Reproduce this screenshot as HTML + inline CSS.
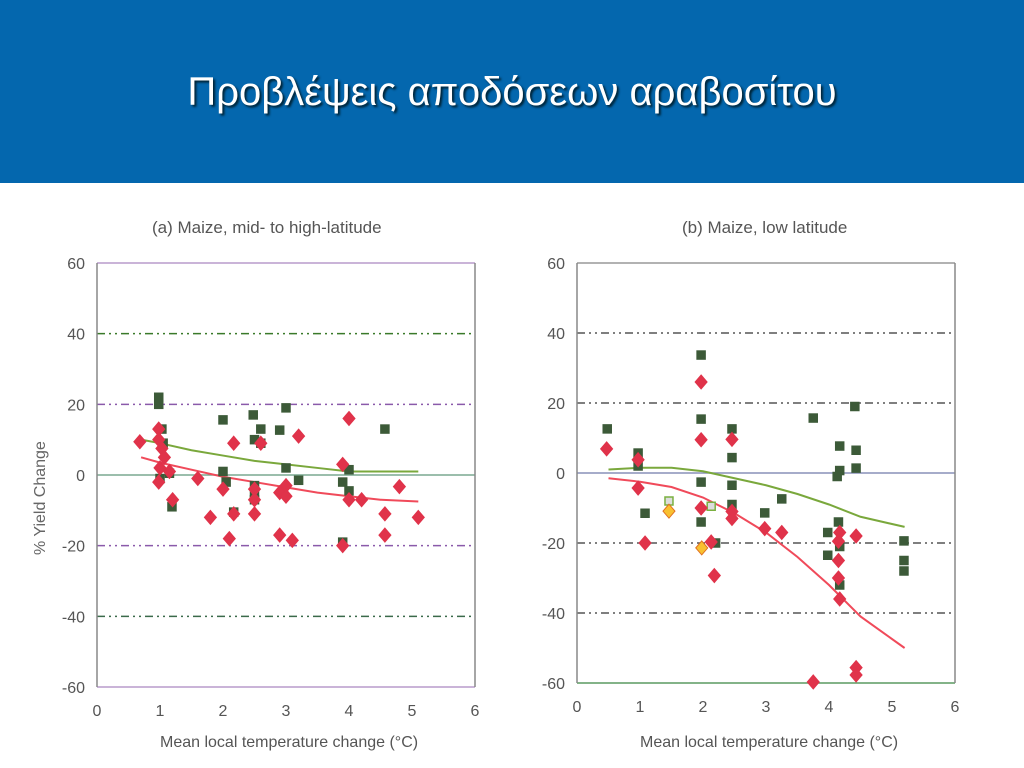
<!DOCTYPE html>
<html><head><meta charset="utf-8"><style>
body{margin:0;width:1024px;height:768px;overflow:hidden;background:#fff;font-family:"Liberation Sans",sans-serif}
#hdr{position:absolute;left:0;top:0;width:1024px;height:183px;background:#0467ae}
#title{position:absolute;left:0;top:70px;width:1024px;text-align:center;color:#fff;font-size:40px;text-shadow:2px 2px 2px #023;letter-spacing:0px}
</style></head><body>
<div id="hdr"><div id="title">Προβλέψεις αποδόσεων αραβοσίτου</div></div>
<svg id="svg" width="1024" height="768" style="position:absolute;left:0;top:0"></svg>
<script>
// Panel A data
const aSqX=[0.98,0.98,2.0,2.48,3.0,2.6,2.9,2.5,2.6,1.03,1.05,4.57,3.0,2.0,1.15,1.0,3.2,2.05,2.5,2.5,3.9,4.0,2.17,1.19,3.9,4.0,2.5];
const aSqY=[22,20,15.6,17,19,13,12.7,10,9,13,9,13,2,1,0.5,-1,-1.5,-2,-5,-7,-2,-4.5,-10.5,-9,-19,1.5,-3];
const aDiX=[0.68,0.98,0.98,1.03,1.07,1.0,1.15,0.98,1.2,1.6,1.8,2.0,2.17,2.1,2.17,2.5,2.5,2.5,2.6,2.9,3.0,3.0,2.9,3.1,3.2,3.9,4.0,4.0,4.2,3.9,4.57,4.57,4.8,5.1];
const aDiY=[9.4,13,10,7.5,5,2,1,-2,-7,-1,-12,-4,9,-18,-11,-4,-7,-11,9,-5,-3,-6,-17,-18.5,11,3,16,-7,-7,-20,-11,-17,-3.3,-12];
const aCurveX=[0.7,1,1.5,2,2.5,3,3.5,4,4.5,5.1];
const aGreenY=[10,9,7,5.5,4,3,2,1,1,1];
const aRedY=[5,3.5,1.5,-0.5,-2,-3.5,-5,-6,-7,-7.5];
// Panel B data
const bSqX=[0.48,0.97,0.97,1.08,1.97,1.97,1.97,1.97,2.2,2.46,2.46,2.46,2.46,2.98,3.25,3.75,3.98,3.98,4.15,4.17,4.17,4.13,4.41,4.43,4.43,4.17,4.17,5.19,5.19,5.19];
const bSqY=[12.6,5.7,2,-11.5,33.7,15.4,-2.6,-14,-20,12.6,4.4,-3.5,-9,-11.4,-7.4,15.7,-17,-23.5,-14,7.7,0.7,-1,19,6.5,1.4,-21,-32,-19.4,-25,-28];
const bOpenX=[1.46,2.13];
const bOpenY=[-8,-9.5];
const bDiX=[0.47,0.97,0.97,1.08,1.97,1.97,1.97,2.13,2.18,2.46,2.46,2.46,2.98,3.25,3.75,4.17,4.15,4.15,4.15,4.17,4.43,4.43,4.43];
const bDiY=[6.9,3.8,-4.3,-20,26,9.5,-10,-19.7,-29.3,9.6,-11,-13,-15.9,-17,-59.7,-17,-19.5,-25,-30,-36,-18,-55.6,-57.7];
const bYelX=[1.46,1.98];
const bYelY=[-10.9,-21.4];
const bCurveX=[0.5,1,1.5,2,2.5,3,3.5,4,4.5,5.2];
const bGreenY=[1,1.5,1.5,0.5,-1.5,-3.5,-6,-9,-12.5,-15.4];
const bRedY=[-1.5,-2.5,-4,-7,-11.5,-17,-24,-32,-41,-50];
const xTicks=[0,1,2,3,4,5,6];
const yTicks=[60,40,20,0,-20,-40,-60];

const svg=document.getElementById('svg');
const NS='http://www.w3.org/2000/svg';
function mk(t,a){const e=document.createElementNS(NS,t);for(const k in a)e.setAttribute(k,a[k]);svg.appendChild(e);return e;}
function panel(p){
  const X=v=>p.x0+v*(p.x1-p.x0)/6, Y=v=>p.y0+(60-v)*(p.y1-p.y0)/120;
  let e=mk('text',{x:p.tx,y:233,'font-size':17,fill:'#555'});e.textContent=p.title;
  
  
  p.grid.forEach(g=>{
    const l=mk('line',{x1:p.x0,x2:p.x1,y1:Y(g[0]),y2:Y(g[0]),stroke:g[1],'stroke-width':1.5,'stroke-dasharray':g[2]||''});
    
    
  });
  e=mk('line',{x1:p.x0,x2:p.x0,y1:p.y0,y2:p.y1,stroke:'#888','stroke-width':1.5});
  
  
  e=mk('line',{x1:p.x1,x2:p.x1,y1:p.y0,y2:p.y1,stroke:'#888','stroke-width':1.5});
  
  
  yTicks.forEach(v=>{const t=mk('text',{x:p.x0-12,y:Y(v)+6,'font-size':16,fill:'#555','text-anchor':'end'});t.textContent=v;
    
    });
  xTicks.forEach(v=>{const t=mk('text',{x:X(v),y:p.y1+29,'font-size':16,fill:'#555','text-anchor':'middle'});t.textContent=v;
    
    });
  e=mk('text',{x:p.x0+63,y:747,'font-size':16,fill:'#555'});e.textContent='Mean local temperature change (°C)';
  
  
  const line=(xs,ys,c,n)=>{const l=mk('polyline',{points:xs.map((x,i)=>X(x)+','+Y(ys[i])).join(' '),fill:'none',stroke:c,'stroke-width':2});
    
    };
  line(p.cx,p.gy,'#7aa83c',p.id+'-green-fit');
  line(p.cx,p.ry,'#f04a5a',p.id+'-red-fit');
  p.sq.forEach(s=>s.xs.forEach((x,i)=>{const r=mk('rect',{x:X(x)-4,y:Y(s.ys[i])-4,width:8,height:8,fill:s.f,stroke:s.s,'stroke-width':1.5});
    
    }));
  p.di.forEach(s=>s.xs.forEach((x,i)=>{const cx=X(x),cy=Y(s.ys[i]);const d=mk('polygon',{points:`${cx},${cy-7} ${cx+6},${cy} ${cx},${cy+7} ${cx-6},${cy}`,fill:s.f,stroke:s.s,'stroke-width':1});
    
    }));
}
const dd='8 4 2 4 2 4';
panel({id:'panel-a',x0:97,x1:475,y0:263,y1:687,tx:152,title:'(a) Maize, mid- to high-latitude',
  grid:[[60,'#b89ccc'],[40,'#3a7a2a',dd],[20,'#8a5aaa',dd],[0,'#7aa890'],[-20,'#8a5aaa',dd],[-40,'#3a6a4a',dd],[-60,'#b89ccc']],
  cx:aCurveX,gy:aGreenY,ry:aRedY,sq:[{xs:aSqX,ys:aSqY,f:'#3c5a38',s:'#3c5a38'}],di:[{xs:aDiX,ys:aDiY,f:'#e0334a',s:'#e0334a'}]});
panel({id:'panel-b',x0:577,x1:955,y0:263,y1:683,tx:682,title:'(b) Maize, low latitude',
  grid:[[60,'#999'],[40,'#555',dd],[20,'#555',dd],[0,'#8890b8'],[-20,'#555',dd],[-40,'#555',dd],[-60,'#5a9a60']],
  cx:bCurveX,gy:bGreenY,ry:bRedY,
  sq:[{xs:bSqX,ys:bSqY,f:'#3c5a38',s:'#3c5a38'},{xs:bOpenX,ys:bOpenY,f:'#ddd',s:'#7ab040'}],
  di:[{xs:bDiX,ys:bDiY,f:'#e0334a',s:'#e0334a'},{xs:bYelX,ys:bYelY,f:'#f8c030',s:'#e07020'}]});
let yl=mk('text',{x:0,y:0,'font-size':16,fill:'#666',transform:'translate(45,555) rotate(-90)'});yl.textContent='% Yield Change';


</script>
</body></html>
